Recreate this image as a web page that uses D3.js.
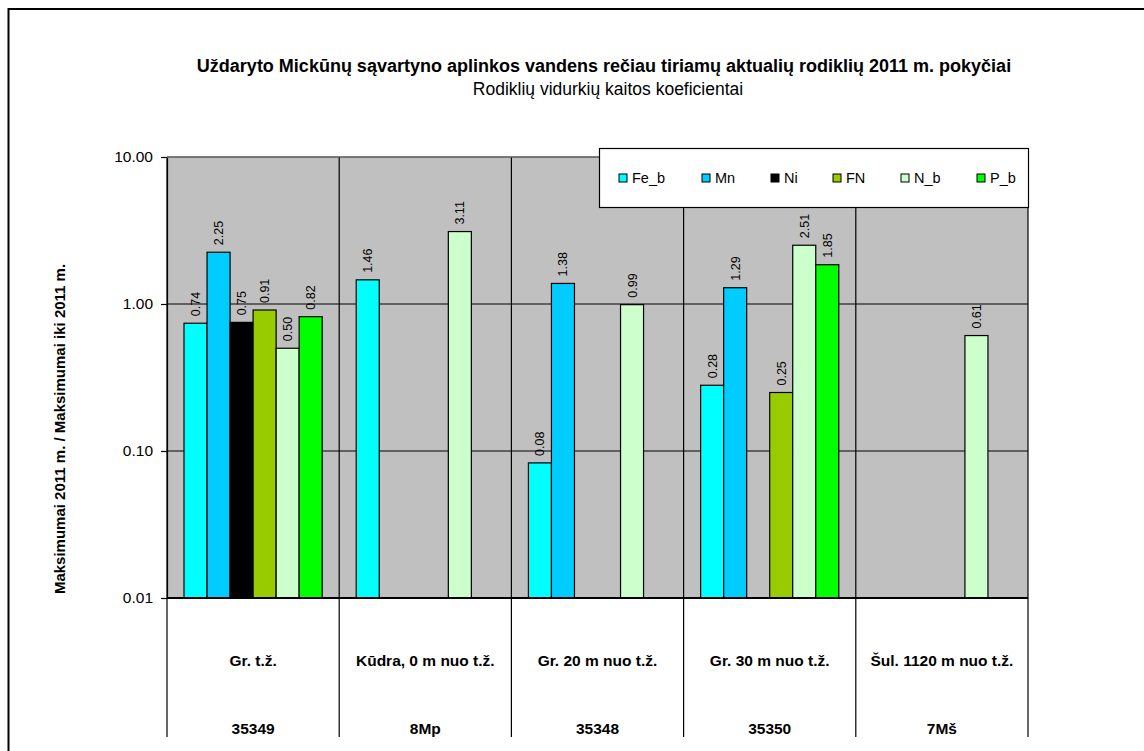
<!DOCTYPE html>
<html>
<head>
  <meta charset="utf-8">
  <title>Mickūnų sąvartynas</title>
  <script src="https://d3js.org/d3.v7.min.js"></script>
  <style>
    body { margin: 0; background: #fff; }
    text { font-family: "Liberation Sans", Arial, sans-serif; }
  </style>
</head>
<body>
  <script>
    // duomenys
    const categories = ['Gr. t.ž.', 'Kūdra, 0 m nuo t.ž.', 'Gr. 20 m nuo t.ž.', 'Gr. 30 m nuo t.ž.', 'Šul. 1120 m nuo t.ž.'];
    const codes = ['35349', '8Mp', '35348', '35350', '7Mš'];
    const seriesNames = ['Fe_b', 'Mn', 'Ni', 'FN', 'N_b', 'P_b'];
    const seriesColors = ['#00ffff', '#00ccff', '#000000', '#99cc00', '#ccffcc', '#00ff00'];
    const feB = [0.74, 1.46, 0.083, 0.28, null];
    const mn  = [2.25, null, 1.38, 1.29, null];
    const ni  = [0.75, null, null, null, null];
    const fn  = [0.91, null, null, 0.25, null];
    const nB  = [0.50, 3.11, 0.99, 2.51, 0.61];
    const pB  = [0.82, null, null, 1.85, null];
    const yTicks = [0.01, 0.1, 1, 10];

    const series = [feB, mn, ni, fn, nB, pB];

    const width = 1144, height = 751;
    const pLeft = 167, pRight = 1028, pTop = 157, pBottom = 598;

    const svg = d3.select('body').append('svg')
      .attr('width', width)
      .attr('height', height);

    // rėmelis
    svg.append('rect')
      .attr('x', 8.5).attr('y', 9)
      .attr('width', 1200).attr('height', 800)
      .attr('fill', 'none').attr('stroke', '#000').attr('stroke-width', 2);

    // pavadinimai
    svg.append('text')
      .attr('x', 604).attr('y', 72)
      .attr('text-anchor', 'middle')
      .attr('font-size', 18).attr('font-weight', 'bold')
      .text('Uždaryto Mickūnų sąvartyno aplinkos vandens rečiau tiriamų aktualių rodiklių 2011 m. pokyčiai');
    svg.append('text')
      .attr('x', 608).attr('y', 95)
      .attr('text-anchor', 'middle')
      .attr('font-size', 17.5)
      .text('Rodiklių vidurkių kaitos koeficientai');

    const x0 = d3.scaleBand().domain(d3.range(categories.length)).range([pLeft, pRight]);
    const gap = 34 / 172;
    const x1 = d3.scaleBand().domain(d3.range(seriesNames.length))
      .range([x0.bandwidth() * gap / 2, x0.bandwidth() * (1 - gap / 2)]);
    const y = d3.scaleLog().domain([0.01, 10]).range([pBottom, pTop]);

    // fonas
    svg.append('rect')
      .attr('x', pLeft).attr('y', pTop)
      .attr('width', pRight - pLeft).attr('height', pBottom - pTop)
      .attr('fill', '#c0c0c0');

    // tinklelis
    svg.append('g').selectAll('line')
      .data(yTicks.slice(1))
      .join('line')
      .attr('x1', pLeft).attr('x2', pRight)
      .attr('y1', d => y(d)).attr('y2', d => y(d))
      .attr('stroke', '#000').attr('stroke-width', 1.2);

    // kategorijų skirtukai
    svg.append('g').selectAll('line')
      .data(d3.range(categories.length + 1))
      .join('line')
      .attr('x1', i => i < categories.length ? x0(i) : pRight)
      .attr('x2', i => i < categories.length ? x0(i) : pRight)
      .attr('y1', pTop).attr('y2', 737)
      .attr('stroke', '#000').attr('stroke-width', 1.2);

    // stulpeliai
    const bars = [];
    series.forEach((vals, s) => vals.forEach((v, c) => {
      if (v != null) bars.push({ s, c, v });
    }));

    svg.append('g').selectAll('rect')
      .data(bars)
      .join('rect')
      .attr('x', d => x0(d.c) + x1(d.s))
      .attr('y', d => y(d.v))
      .attr('width', x1.bandwidth())
      .attr('height', d => pBottom - y(d.v))
      .attr('fill', d => seriesColors[d.s])
      .attr('stroke', '#000').attr('stroke-width', 1.2);

    svg.append('g').selectAll('text')
      .data(bars)
      .join('text')
      .attr('transform', d => `translate(${x0(d.c) + x1(d.s) + x1.bandwidth() / 2 + 4.5},${y(d.v) - 7}) rotate(-90)`)
      .attr('font-size', 12.5)
      .text(d => d.v.toFixed(2));

    // y ašis
    const yAxis = d3.axisLeft(y)
      .tickValues(yTicks)
      .tickFormat(d3.format('.2f'))
      .tickSizeInner(6).tickSizeOuter(0);
    const ga = svg.append('g')
      .attr('transform', `translate(${pLeft},0)`)
      .call(yAxis);
    ga.select('.domain').attr('stroke', '#000').attr('stroke-width', 1.2);
    ga.selectAll('.tick line').attr('stroke', '#000').attr('stroke-width', 1.2);
    ga.selectAll('.tick text')
      .attr('font-family', '"Liberation Sans", Arial, sans-serif')
      .attr('font-size', 15.5).attr('fill', '#000').attr('x', -14);

    // apatinė ašis
    svg.append('line')
      .attr('x1', pLeft).attr('x2', pRight)
      .attr('y1', pBottom).attr('y2', pBottom)
      .attr('stroke', '#000').attr('stroke-width', 2);
    svg.append('line')
      .attr('x1', pLeft).attr('x2', pRight)
      .attr('y1', pTop).attr('y2', pTop)
      .attr('stroke', '#808080').attr('stroke-width', 1);

    svg.append('g').selectAll('text')
      .data(categories)
      .join('text')
      .attr('x', (d, i) => x0(i) + x0.bandwidth() / 2)
      .attr('y', 666)
      .attr('text-anchor', 'middle')
      .attr('font-size', 15.5).attr('font-weight', 'bold')
      .text(d => d);
    svg.append('g').selectAll('text')
      .data(codes)
      .join('text')
      .attr('x', (d, i) => x0(i) + x0.bandwidth() / 2)
      .attr('y', 734)
      .attr('text-anchor', 'middle')
      .attr('font-size', 15.5).attr('font-weight', 'bold')
      .text(d => d);

    // y ašies pavadinimas
    svg.append('text')
      .attr('transform', 'translate(65,429) rotate(-90)')
      .attr('text-anchor', 'middle')
      .attr('font-size', 15).attr('font-weight', 'bold')
      .text('Maksimumai 2011 m. / Maksimumai iki 2011 m.');

    // legenda
    const lg = svg.append('g');
    lg.append('rect')
      .attr('x', 599.5).attr('y', 148.5)
      .attr('width', 429).attr('height', 59)
      .attr('fill', '#fff').attr('stroke', '#000').attr('stroke-width', 1.2);
    const legendX = [619, 702, 771, 833, 901, 977];
    const items = lg.selectAll('g')
      .data(seriesNames)
      .join('g')
      .attr('transform', (d, i) => `translate(${legendX[i]},178)`);
    items.append('rect')
      .attr('x', 0).attr('y', -4)
      .attr('width', 8).attr('height', 8)
      .attr('fill', (d, i) => seriesColors[i])
      .attr('stroke', '#000').attr('stroke-width', 1);
    items.append('text')
      .attr('x', 13).attr('y', 5)
      .attr('font-size', 14.5)
      .text(d => d);
  </script>
</body>
</html>
